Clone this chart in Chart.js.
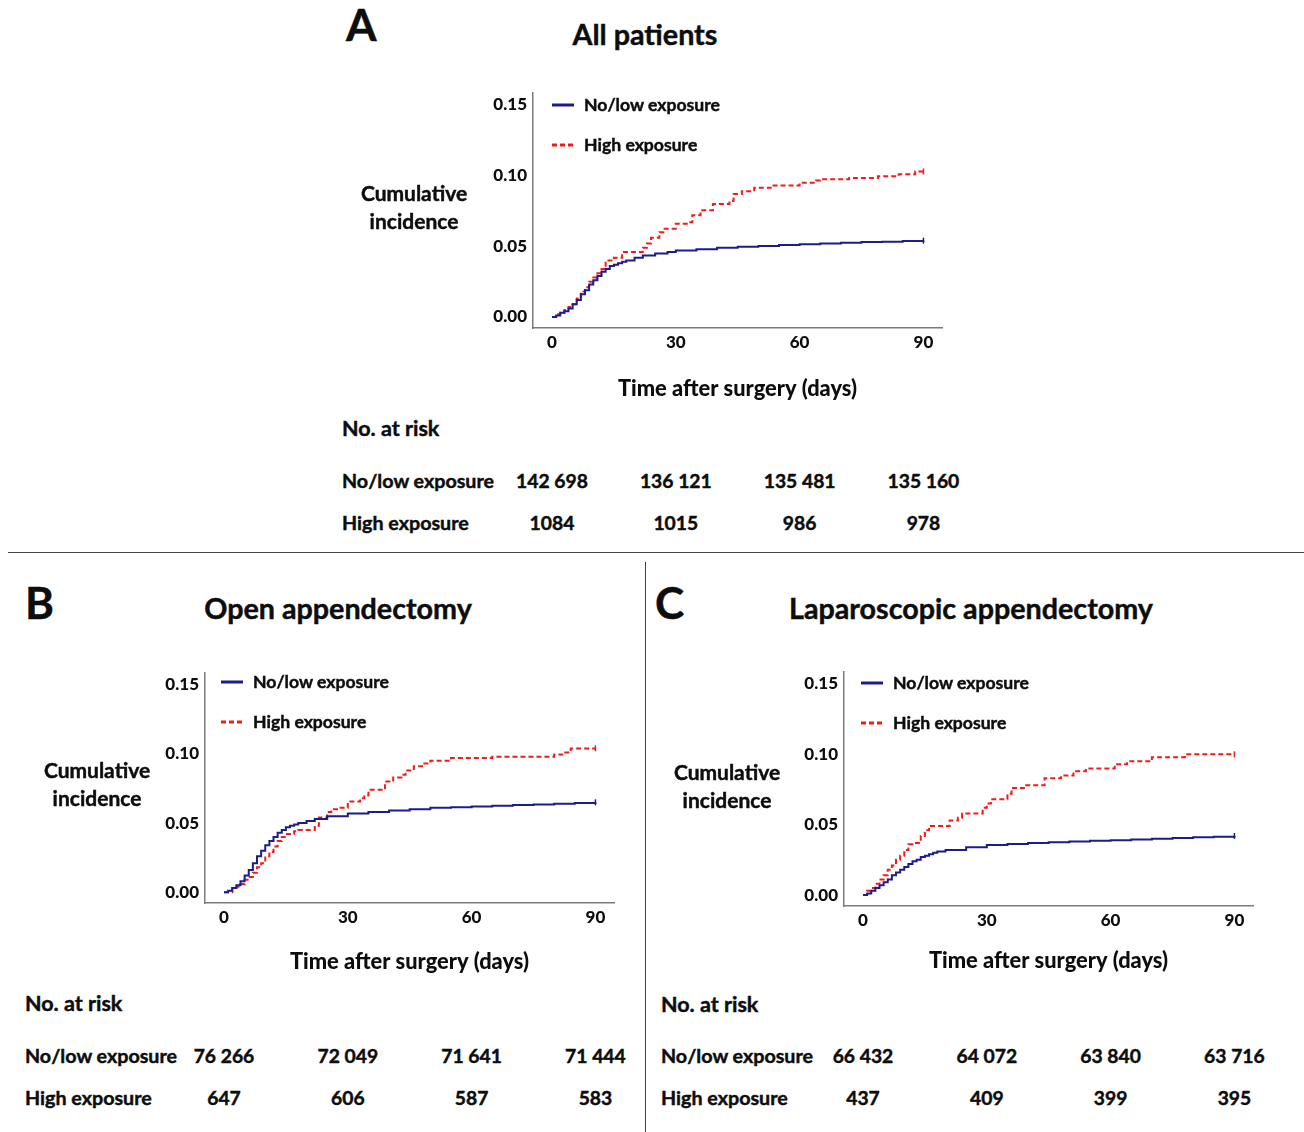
<!DOCTYPE html>
<html>
<head>
<meta charset="utf-8">
<script src="https://cdn.jsdelivr.net/npm/chart.js@4.4.1/dist/chart.umd.min.js"></script>
<style>
  html, body { margin: 0; padding: 0; background: #fff; }
  body { width: 1304px; height: 1132px; position: relative; overflow: hidden;
         font-family: Lato, "Open Sans", sans-serif; font-weight: 700; color: #0d0d0d; }
  .t { position: absolute; white-space: nowrap; line-height: 1; -webkit-text-stroke: 0.45px #0d0d0d; }
  .rule { position: absolute; background: #444; }
  canvas { position: absolute; }
</style>
</head>
<body>
<div class="rule" style="left:8px;top:552px;width:1296px;height:1px"></div>
<div class="rule" style="left:645px;top:562px;width:1px;height:570px"></div>
<script>

//
// Axes
//
const X_TICKS = [0, 30, 60, 90];
const Y_TICKS = [0, 0.05, 0.10, 0.15];
const RISK_DAYS = [0, 30, 60, 90];
const SERIES_NAMES = ['No/low exposure', 'High exposure'];

//
// A - All patients
//
const A_LOW_DAYS = [0, 1, 2, 3, 4, 5, 6, 7, 8, 9, 10, 11, 12, 13, 14, 15, 16, 17, 18,
  20, 22, 25, 28, 30, 35, 40, 45, 50, 55, 60, 65, 70, 75, 80, 85, 90];
const A_LOW_CI = [0, 0.001, 0.003, 0.004, 0.006, 0.009, 0.012, 0.016, 0.019, 0.023, 0.026, 0.029, 0.032, 0.034, 0.036, 0.037, 0.038, 0.039, 0.040,
  0.042, 0.0435, 0.045, 0.046, 0.047, 0.048, 0.049, 0.0497, 0.0503, 0.051, 0.0515, 0.052, 0.0525, 0.053, 0.0533, 0.0537, 0.054];
const A_HIGH_DAYS = [0, 1, 2, 3, 4, 5, 6, 7, 8, 9, 10, 11, 12, 13, 15, 17, 22, 23, 24, 26, 27, 30, 33, 34,
  36, 39, 43, 44, 46, 49, 53, 60, 64, 65, 72, 79, 84, 88, 90];
const A_HIGH_CI = [0, 0.002, 0.003, 0.005, 0.007, 0.009, 0.013, 0.018, 0.021, 0.025, 0.028, 0.031, 0.034, 0.040, 0.042, 0.046, 0.049, 0.052, 0.056, 0.060, 0.0625, 0.066, 0.067, 0.072,
  0.0755, 0.080, 0.082, 0.087, 0.089, 0.0914, 0.093, 0.095, 0.0966, 0.0975, 0.0984, 0.0996, 0.101, 0.103, 0.103];
const A_RISK_LOW = ['142 698', '136 121', '135 481', '135 160'];
const A_RISK_HIGH = ['1084', '1015', '986', '978'];

//
// B - Open appendectomy
//
const B_LOW_DAYS = [0, 1, 2, 3, 4, 5, 6, 7, 8, 9, 10, 11, 12, 13, 14, 15,
  16, 17, 18, 20, 22, 25, 30, 35, 40, 45, 50, 55, 60, 65, 70, 75, 80, 85, 90];
const B_LOW_CI = [0, 0.001, 0.003, 0.005, 0.008, 0.012, 0.016, 0.021, 0.026, 0.030, 0.034, 0.037, 0.040, 0.043, 0.045, 0.047,
  0.048, 0.049, 0.050, 0.0515, 0.053, 0.055, 0.057, 0.058, 0.059, 0.060, 0.061, 0.0615, 0.062, 0.0625, 0.063, 0.0635, 0.064, 0.0645, 0.065];
const B_HIGH_DAYS = [0, 2, 3, 4, 5, 6, 7, 8, 9, 10, 11, 12, 13, 14, 15, 17, 18, 22, 23, 25, 26, 28, 30, 33, 34,
  35, 39, 41, 43, 44, 46, 48, 50, 55, 65, 80, 82, 84, 90];
const B_HIGH_CI = [0, 0.003, 0.004, 0.006, 0.009, 0.011, 0.014, 0.018, 0.021, 0.026, 0.029, 0.033, 0.037, 0.040, 0.042, 0.044, 0.045, 0.048, 0.054, 0.058, 0.060, 0.061, 0.0655, 0.068, 0.070,
  0.074, 0.080, 0.083, 0.085, 0.088, 0.091, 0.093, 0.095, 0.097, 0.098, 0.0995, 0.101, 0.104, 0.104];
const B_RISK_LOW = ['76 266', '72 049', '71 641', '71 444'];
const B_RISK_HIGH = ['647', '606', '587', '583'];

//
// C - Laparoscopic appendectomy
//
const C_LOW_DAYS = [0, 1, 2, 3, 4, 5, 6, 7, 8, 9, 10, 11, 12, 13, 14, 15, 16, 17, 18,
  20, 25, 30, 35, 40, 45, 50, 55, 60, 65, 70, 75, 80, 85, 90];
const C_LOW_CI = [0, 0.001, 0.003, 0.005, 0.007, 0.009, 0.011, 0.014, 0.016, 0.018, 0.020, 0.022, 0.024, 0.025, 0.027, 0.028, 0.029, 0.030, 0.031,
  0.032, 0.034, 0.0355, 0.0363, 0.037, 0.0375, 0.038, 0.0385, 0.039, 0.0395, 0.040, 0.0405, 0.041, 0.0415, 0.042];
const C_HIGH_DAYS = [0, 1, 2, 3, 4, 5, 6, 7, 8, 9, 10, 11, 12, 14, 15, 16, 21, 23, 24, 29, 30, 31, 35, 36,
  39, 44, 48, 51, 54, 61, 64, 70, 78, 90];
const C_HIGH_CI = [0, 0.003, 0.005, 0.008, 0.011, 0.014, 0.018, 0.021, 0.025, 0.028, 0.032, 0.036, 0.037, 0.042, 0.046, 0.049, 0.053, 0.055, 0.058, 0.062, 0.065, 0.068, 0.072, 0.076,
  0.078, 0.083, 0.085, 0.088, 0.090, 0.093, 0.095, 0.098, 0.100, 0.100];
const C_RISK_LOW = ['66 432', '64 072', '63 840', '63 716'];
const C_RISK_HIGH = ['437', '409', '399', '395'];

//
// Style
//
const FONT = 'Lato, "Open Sans", sans-serif';
const TEXT_COLOR = '#0d0d0d';
const LOW_COLOR = '#1c1c8a';
const HIGH_COLOR = '#f01c1c';
const AXIS_COLOR = '#7a7a7a';
const X_MIN = -4.6, X_MAX = 94.5;
const Y_MIN = -0.0078, Y_MAX = 0.1585;

const PANELS = [
  {
    letter: 'A', title: 'All patients',
    area: { left: 533, right: 942, top: 93, bottom: 328 },
    letterAt: [346, 24], titleAt: [645, 34], ylabAt: [414, 207], xlabGap: 61,
    legendAt: [552, 105], riskX: 342, riskHeadY: 429, rowY: [481, 523],
    low: [A_LOW_DAYS, A_LOW_CI], high: [A_HIGH_DAYS, A_HIGH_CI], risk: [A_RISK_LOW, A_RISK_HIGH]
  },
  {
    letter: 'B', title: 'Open appendectomy',
    area: { left: 205, right: 614, top: 673, bottom: 903 },
    letterAt: [25, 602], titleAt: [338, 608], ylabAt: [97, 784], xlabGap: 59,
    legendAt: [221, 682], riskX: 25, riskHeadY: 1004, rowY: [1056, 1098],
    low: [B_LOW_DAYS, B_LOW_CI], high: [B_HIGH_DAYS, B_HIGH_CI], risk: [B_RISK_LOW, B_RISK_HIGH]
  },
  {
    letter: 'C', title: 'Laparoscopic appendectomy',
    area: { left: 844, right: 1253, top: 672, bottom: 906 },
    letterAt: [655, 602], titleAt: [971, 608], ylabAt: [727, 786], xlabGap: 55,
    legendAt: [861, 683], riskX: 661, riskHeadY: 1005, rowY: [1056, 1098],
    low: [C_LOW_DAYS, C_LOW_CI], high: [C_HIGH_DAYS, C_HIGH_CI], risk: [C_RISK_LOW, C_RISK_HIGH]
  }
];

/**
 * Place a text element, y is the vertical centre
 */
function label(text, x, y, size, align) {
  let el = document.createElement('div');
  el.className = 't';
  el.style.left = x + 'px';
  el.style.top = y + 'px';
  el.style.fontSize = size + 'px';
  el.style.transform = align === 'center' ? 'translate(-50%, -50%)' : 'translateY(-50%)';
  el.innerHTML = text;
  document.body.appendChild(el);
  return el;
}

/**
 * Legend entry with a line sample
 */
function legendEntry(text, x, y, color, dashed) {
  let svg = document.createElementNS('http://www.w3.org/2000/svg', 'svg');
  svg.setAttribute('width', 26);
  svg.setAttribute('height', 6);
  svg.style.position = 'absolute';
  svg.style.left = x + 'px';
  svg.style.top = (y - 3) + 'px';
  svg.innerHTML = '<line x1="0" y1="3" x2="22" y2="3" stroke="' + color + '" stroke-width="3"' +
    (dashed ? ' stroke-dasharray="5 3"' : '') + '/>';
  document.body.appendChild(svg);
  label(text, x + 32, y, 17.6, 'left');
}

function points(days, values) {
  return days.map((d, i) => ({ x: d, y: values[i] }));
}

function endMark(ctx) {
  return ctx.dataIndex === ctx.dataset.data.length - 1 ? 3 : 0;
}

/**
 * Draw one panel
 */
function drawPanel(p) {
  const a = p.area;
  const padTop = 12, padRight = 20, yWidth = 70, xHeight = 80;
  let canvas = document.createElement('canvas');
  let w = a.right - a.left + yWidth + padRight;
  let h = a.bottom - a.top + padTop + xHeight;
  let cx = a.left - yWidth, cy = a.top - padTop;
  canvas.width = w; canvas.height = h;
  canvas.style.width = w + 'px'; canvas.style.height = h + 'px';
  canvas.style.left = cx + 'px'; canvas.style.top = cy + 'px';
  document.body.appendChild(canvas);

  const tickFont = { family: FONT, size: 17, weight: '900' };

  let chart = new Chart(canvas.getContext('2d'), {
    type: 'line',
    data: {
      datasets: [{
        label: SERIES_NAMES[0],
        data: points(p.low[0], p.low[1]),
        stepped: true,
        borderColor: LOW_COLOR,
        borderWidth: 2,
        pointRadius: endMark,
        pointStyle: 'line',
        rotation: 90,
        pointBorderColor: LOW_COLOR,
        pointBorderWidth: 1.5
      }, {
        label: SERIES_NAMES[1],
        data: points(p.high[0], p.high[1]),
        stepped: true,
        borderColor: HIGH_COLOR,
        borderWidth: 2,
        borderDash: [5, 3],
        pointRadius: endMark,
        pointStyle: 'line',
        rotation: 90,
        pointBorderColor: HIGH_COLOR,
        pointBorderWidth: 1.5
      }]
    },
    options: {
      responsive: false,
      animation: false,
      events: [],
      layout: { padding: { left: 0, top: padTop, right: padRight, bottom: 0 } },
      plugins: { legend: { display: false }, tooltip: { enabled: false } },
      scales: {
        x: {
          type: 'linear', min: X_MIN, max: X_MAX,
          afterBuildTicks: s => { s.ticks = X_TICKS.map(v => ({ value: v })); },
          afterFit: s => { s.height = xHeight; s.paddingLeft = 0; s.paddingRight = 0; },
          grid: { display: false, drawTicks: false },
          border: { display: true, color: AXIS_COLOR, width: 1.5 },
          ticks: { padding: 4, color: TEXT_COLOR, font: tickFont, callback: v => String(v) },
          title: {
            display: true, text: 'Time after surgery (days)', color: TEXT_COLOR,
            font: { family: FONT, size: 21.8, weight: '900' },
            padding: { top: 0, bottom: xHeight - 13 - p.xlabGap }
          }
        },
        y: {
          type: 'linear', min: Y_MIN, max: Y_MAX,
          afterBuildTicks: s => { s.ticks = Y_TICKS.map(v => ({ value: v })); },
          afterFit: s => { s.width = yWidth; s.paddingTop = 0; s.paddingBottom = 0; },
          grid: { display: false, drawTicks: false },
          border: { display: true, color: AXIS_COLOR, width: 1.5 },
          ticks: { padding: 6, color: TEXT_COLOR, font: tickFont, callback: v => v.toFixed(2) }
        }
      }
    }
  });

  //
  // Texts
  label(p.letter, p.letterAt[0], p.letterAt[1], 44, 'left');
  label(p.title, p.titleAt[0], p.titleAt[1], 28.7, 'center');
  let yl = label('Cumulative<br>incidence', p.ylabAt[0], p.ylabAt[1], 21, 'center');
  yl.style.textAlign = 'center';
  yl.style.lineHeight = '28px';

  legendEntry(SERIES_NAMES[0], p.legendAt[0], p.legendAt[1], LOW_COLOR, false);
  legendEntry(SERIES_NAMES[1], p.legendAt[0], p.legendAt[1] + 40, HIGH_COLOR, true);

  //
  // Number at risk table, aligned to the x scale
  label('No. at risk', p.riskX, p.riskHeadY, 21.5, 'left');
  SERIES_NAMES.forEach((name, r) => {
    label(name, p.riskX, p.rowY[r], 19.7, 'left');
    RISK_DAYS.forEach((d, i) => {
      let px = cx + chart.scales.x.getPixelForValue(d);
      label(p.risk[r][i], px, p.rowY[r], 19.3, 'center');
    });
  });
}

PANELS.forEach(drawPanel);
</script>
</body>
</html>
